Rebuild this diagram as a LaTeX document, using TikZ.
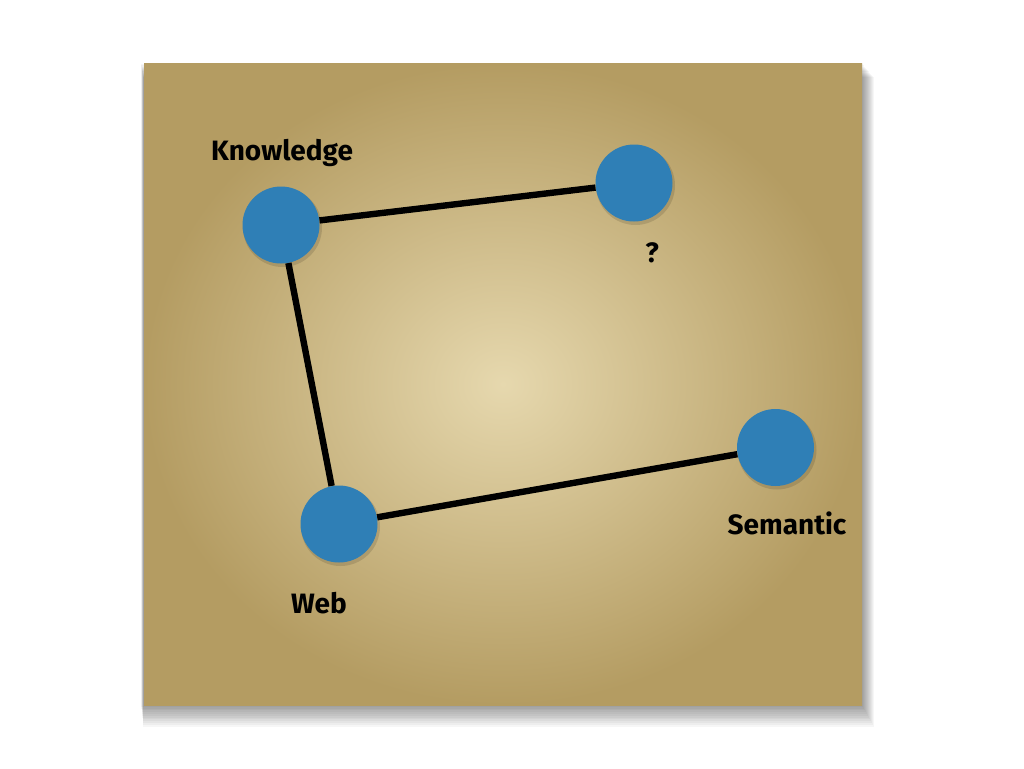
\documentclass[tikz,border=0pt]{standalone}
\usepackage{fontspec}
\setmainfont{Fira Sans}
\begin{document}
\begin{tikzpicture}[x=0.75pt,y=-0.75pt,
  dot/.style={circle,fill=dotblue,minimum size=57.75pt,inner sep=0pt},
  lbl/.style={font=\bfseries\fontsize{21}{25}\selectfont,text=black},
  link/.style={line width=4.8pt,draw=black}]
\definecolor{dotblue}{HTML}{2F7FB6}
\definecolor{parchin}{HTML}{E6D8AE}
\definecolor{parchout}{HTML}{B49C62}
\useasboundingbox (0,0) rectangle (1024,768);
\fill[white] (0,0) rectangle (1024,768);
% shadow
\foreach \i in {1,...,12}{
  \fill[black,opacity=0.035] (144+\i*0.2-3,63+\i*1.2) rectangle (862+\i*1.0,705+\i*1.8);
}
% parchment
\shade[inner color=parchin,outer color=parchout] (144,63) rectangle (862,705);
% nodes
\foreach \n/\p in {k/{(281,225)},q/{(634,183)},w/{(339,524)},s/{(775.5,447.5)}}{
  \fill[black,opacity=0.12] \p ++(1.5,2.5) circle (39.5);
}
\node[dot] (k) at (281,225) {};
\node[dot] (q) at (634,183) {};
\node[dot] (w) at (339,524) {};
\node[dot] (s) at (775.5,447.5) {};
\draw[link] (k) -- (q);
\draw[link] (k) -- (w);
\draw[link] (w) -- (s);
\node[lbl] (lk) at (282,153) {Knowledge};
\node[lbl] (lq) at (652,253) {?};
\node[lbl] (lw) at (319,603) {Web};
\node[lbl] (ls) at (787,523) {Semantic};
\end{tikzpicture}
\end{document}
